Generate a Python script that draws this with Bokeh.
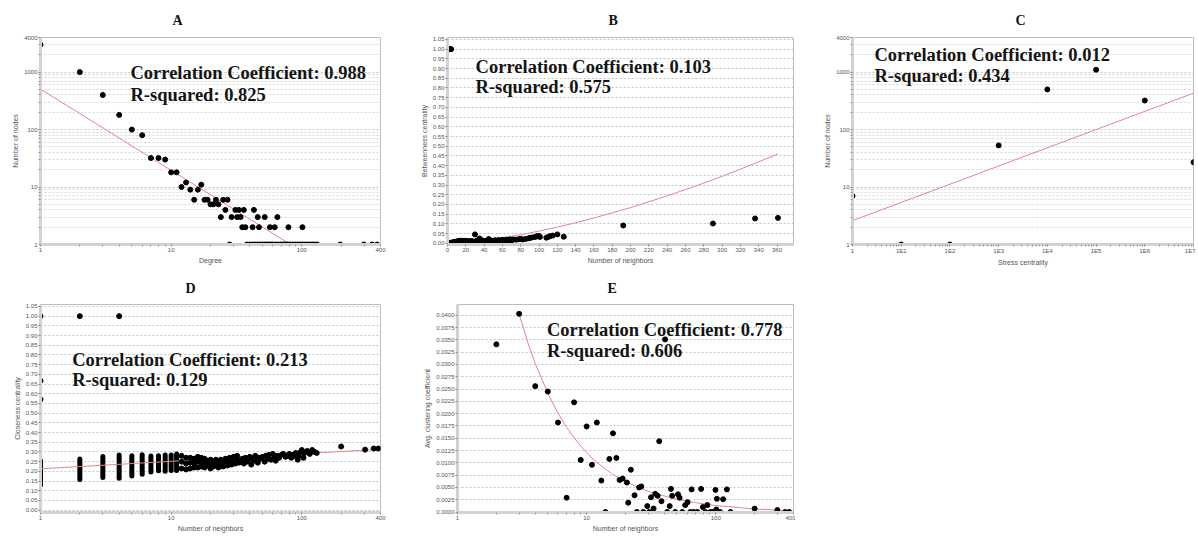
from bokeh.plotting import figure
from bokeh.layouts import row, column
from bokeh.models import (Range1d, FixedTicker, SingleIntervalTicker, Label,
                          PrintfTickFormatter, ColumnDataSource)
from bokeh.embed import file_html
from bokeh.resources import INLINE

# ---------------- data ----------------
# A: degree distribution
A_degree = [1, 2, 3, 4, 5, 6, 7, 8, 9, 10,
            11, 12, 13, 14, 15, 16, 17, 18, 19, 20,
            21, 22, 23, 24, 25, 26, 27, 29, 31, 32,
            33, 34, 35, 36, 37, 42, 43, 46, 47, 52,
            57, 62, 65, 79, 101,
            28, 38, 40, 42, 44, 46, 48, 50, 52, 54,
            56, 58, 60, 63, 66, 69, 72, 75, 78, 81,
            85, 89, 93, 97, 101, 105, 110, 115, 120, 125,
            131, 197, 298, 345, 377]
A_count = [3000, 1000, 400, 180, 100, 80, 32, 32, 30, 18,
           18, 10, 12, 9, 6, 9, 11, 6, 6, 5,
           5, 6, 5, 3, 6, 4, 6, 3, 4, 3,
           4, 3, 2, 4, 2, 2, 4, 3, 2, 3,
           2, 2, 3, 2, 2,
           1, 1, 1, 1, 1, 1, 1, 1, 1, 1,
           1, 1, 1, 1, 1, 1, 1, 1, 1, 1,
           1, 1, 1, 1, 1, 1, 1, 1, 1, 1,
           1, 1, 1, 1, 1]
A_fit_x = [1, 82]
A_fit_y = [505, 1]

# B: betweenness centrality vs number of neighbors
B_x = [1, 2, 3, 4, 1, 2, 3, 5, 6, 7,
       8, 9, 10, 11, 12, 13, 14, 15, 16, 17,
       18, 19, 20, 22, 24, 25, 26, 28, 30, 31,
       32, 34, 35, 36, 38, 40, 42, 44, 45, 46,
       48, 50, 52, 54, 55, 56, 58, 60, 62, 64,
       66, 68, 70, 72, 75, 78, 80, 82, 85, 88,
       90, 92, 95, 97, 98, 100, 101, 108, 110, 112,
       115, 120, 127, 192, 290, 336, 361,
       5, 10, 15, 20, 25, 30, 35, 40, 45, 50,
       55, 60, 65, 70]
B_y = [1.0, 1.0, 1.0, 1.0, 0.001, 0.002, 0.003, 0.004, 0.005, 0.006,
       0.007, 0.008, 0.009, 0.010, 0.011, 0.012, 0.013, 0.012, 0.013, 0.011,
       0.012, 0.013, 0.010, 0.012, 0.011, 0.008, 0.012, 0.010, 0.046, 0.009,
       0.014, 0.012, 0.025, 0.009, 0.015, 0.012, 0.010, 0.015, 0.022, 0.011,
       0.014, 0.010, 0.016, 0.013, 0.011, 0.017, 0.014, 0.018, 0.015, 0.019,
       0.016, 0.020, 0.018, 0.020, 0.019, 0.021, 0.023, 0.020, 0.022, 0.025,
       0.028, 0.030, 0.032, 0.035, 0.037, 0.038, 0.033, 0.029, 0.033, 0.037,
       0.040, 0.046, 0.034, 0.092, 0.102, 0.128, 0.131,
       0.001, 0.002, 0.003, 0.004, 0.005, 0.004, 0.006, 0.007, 0.008, 0.009,
       0.010, 0.012, 0.013, 0.014]
B_fit_x = [1, 10, 20, 40, 60, 80, 100, 120, 140, 160,
           180, 200, 220, 240, 260, 280, 300, 320, 340, 361]
B_fit_y = [0.00005, 0.0018, 0.0052, 0.0152, 0.0285, 0.0445, 0.063, 0.0835, 0.106, 0.1305,
           0.157, 0.184, 0.214, 0.2445, 0.277, 0.31, 0.345, 0.382, 0.42, 0.46]

# C: stress centrality distribution
C_x = [1, 10, 100, 1000, 10000, 100000, 1000000, 10000000]
C_y = [7, 1, 1, 53, 500, 1100, 320, 27]
C_fit_x = [1, 10000000]
C_fit_y = [2.6, 430]
C_xticks = [1, 10, 100, 1000, 10000, 100000, 1000000, 10000000]
C_xlabels = ["1", "1E1", "1E2", "1E3", "1E4", "1E5", "1E6", "1E7"]

# D: closeness centrality vs number of neighbors
D_bar_x = [1, 2, 3, 4, 5, 6, 7, 8, 9, 10, 11]
D_bar_lo = [0.13, 0.158, 0.168, 0.165, 0.176, 0.185, 0.197, 0.203, 0.2, 0.205, 0.205]
D_bar_hi = [0.255, 0.264, 0.276, 0.284, 0.28, 0.286, 0.279, 0.28, 0.284, 0.284, 0.29]
D_x = [12, 12, 12, 13, 13, 13, 14, 14, 14, 15,
       15, 15, 16, 16, 16, 17, 17, 17, 18, 18,
       18, 19, 19, 20, 20, 20, 21, 21, 22, 22,
       23, 23, 24, 24, 25, 25, 26, 26, 27, 27,
       28, 28, 29, 30, 30, 31, 32, 32, 33, 34,
       35, 36, 37, 38, 39, 40, 41, 42, 43, 44,
       45, 46, 47, 48, 50, 52, 53, 55, 56, 58,
       60, 62, 63, 65, 67, 70, 72, 75, 78, 80,
       83, 85, 88, 90, 93, 95, 98, 100, 103, 105,
       110, 115, 120, 125, 130,
       1, 2, 4, 1, 1,
       200, 305, 355, 385]
D_y = [0.215, 0.25, 0.28, 0.21, 0.24, 0.27, 0.215, 0.245, 0.27, 0.22,
       0.24, 0.265, 0.22, 0.25, 0.275, 0.225, 0.245, 0.27, 0.22, 0.24,
       0.265, 0.23, 0.255, 0.215, 0.235, 0.26, 0.225, 0.25, 0.23, 0.26,
       0.22, 0.245, 0.235, 0.26, 0.225, 0.25, 0.24, 0.265, 0.23, 0.255,
       0.245, 0.27, 0.235, 0.25, 0.275, 0.24, 0.26, 0.28, 0.245, 0.255,
       0.265, 0.24, 0.27, 0.25, 0.26, 0.275, 0.235, 0.265, 0.255, 0.28,
       0.26, 0.245, 0.27, 0.265, 0.275, 0.25, 0.28, 0.265, 0.285, 0.26,
       0.29, 0.27, 0.255, 0.28, 0.27, 0.285, 0.29, 0.275, 0.28, 0.29,
       0.27, 0.285, 0.28, 0.295, 0.26, 0.28, 0.3, 0.31, 0.27, 0.295,
       0.305, 0.29, 0.31, 0.3, 0.295,
       1.0, 1.0, 1.0, 0.667, 0.571,
       0.328, 0.312, 0.318, 0.318]
D_fit_x = [1, 400]
D_fit_y = [0.213, 0.314]

# E: average clustering coefficient vs number of neighbors
E_x = [2, 3, 4, 5, 6, 7, 8, 9, 10, 11,
       12, 13, 14, 15, 16, 17, 18, 19, 20.5, 21,
       22, 23.5, 24.5, 25.5, 26.5, 27.5, 29.5, 30.5, 31.5, 33,
       34, 35.5, 36.5, 38, 40.5, 42, 44, 45, 46, 48.5,
       51, 52.5, 55, 58, 60.5, 63.5, 65, 67.5, 72, 77,
       79.5, 83, 86, 91, 95, 99.5, 102, 101, 108, 114,
       122, 130, 200, 300, 345, 370]
E_y = [0.0341, 0.0403, 0.0256, 0.0245, 0.0182, 0.0029, 0.0223, 0.0106, 0.0174, 0.0096,
       0.0182, 0.0064, 0.0, 0.0108, 0.0160, 0.0110, 0.0065, 0.0068, 0.0060, 0.0019,
       0.0086, 0.0034, 0.0, 0.0050, 0.0052, 0.0, 0.0012, 0.0, 0.0030, 0.0007,
       0.0037, 0.0033, 0.0144, 0.0022, 0.0351, 0.0, 0.0012, 0.0047, 0.0033, 0.0,
       0.0036, 0.0029, 0.0, 0.0014, 0.0020, 0.0, 0.0046, 0.0, 0.0, 0.0047,
       0.0010, 0.0, 0.0014, 0.0, 0.0, 0.0045, 0.0027, 0.0005, 0.0, 0.0026,
       0.0046, 0.0, 0.0007, 0.0004, 0.0, 0.0]
E_fit_x = [3, 3.5, 4, 5, 6, 7, 8.6, 10, 11.6, 15.6,
           21, 30, 38, 50, 70, 100, 126, 200, 300, 370]
E_fit_y = [0.0403, 0.0345, 0.0302, 0.0242, 0.0201, 0.0172, 0.0140, 0.0121, 0.0104, 0.0078,
           0.0059, 0.0042, 0.0034, 0.0026, 0.0019, 0.0013, 0.0011, 0.0006, 0.0004, 0.0003]

LOG400_TICKS = [1, 10, 100, 400]
LOG4000_TICKS = [1, 10, 100, 1000, 4000]

# ---------------- styling helpers ----------------
SANS = "Liberation Sans"
SERIF = "Liberation Serif"
FIT_COLOR = "#e48686"


def minor_log(lo_exp, hi_exp, extra=()):
    out = [m * 10 ** k for k in range(lo_exp, hi_exp) for m in range(2, 10)]
    return out + list(extra)


def make_fig(title, title_offset, title_standoff, width, height, x_type, y_type,
             x_range, y_range, bl, br, bt, bb, xlabel, ylabel):
    p = figure(width=width, height=height, x_axis_type=x_type, y_axis_type=y_type,
               x_range=x_range, y_range=y_range, output_backend="svg",
               toolbar_location=None, min_border_left=bl, min_border_right=br,
               min_border_top=bt, min_border_bottom=bb, title=title)
    p.title.align = "left"
    p.title.offset = title_offset
    p.title.text_font = SERIF
    p.title.text_font_style = "bold"
    p.title.text_font_size = "14px"
    p.title.text_color = "#111111"
    p.title.standoff = title_standoff
    p.background_fill_color = "white"
    p.border_fill_color = "white"
    p.outline_line_color = "#bdbdbd"
    p.outline_line_width = 1
    p.xaxis.axis_label = xlabel
    p.yaxis.axis_label = ylabel
    for ax in p.axis:
        ax.axis_line_color = "#d2d2d2"
        ax.axis_line_width = 3
        ax.major_tick_line_color = "#888888"
        ax.major_tick_out = 2
        ax.major_tick_in = 0
        ax.minor_tick_line_color = "#999999"
        ax.minor_tick_out = 2
        ax.minor_tick_in = 0
        ax.major_label_text_font = SANS
        ax.major_label_text_font_size = "6px"
        ax.major_label_text_color = "#555555"
        ax.major_label_standoff = 1
        ax.axis_label_text_font = SANS
        ax.axis_label_text_font_size = "7px"
        ax.axis_label_text_font_style = "normal"
        ax.axis_label_text_color = "#555555"
        ax.axis_label_standoff = 2
    p.xgrid.grid_line_color = None
    p.ygrid.grid_line_color = "#c4c4c4"
    p.ygrid.grid_line_dash = "2 2"
    p.ygrid.grid_line_width = 1
    return p


def add_text(p, x, y1, y2, line1, line2):
    for yy, txt in ((y1, line1), (y2, line2)):
        p.add_layout(Label(x=x, y=yy, text=txt, text_font=SERIF, text_font_style="bold",
                           text_font_size="18.5px", text_baseline="middle",
                           text_color="#141414"))


def log_labels(ticks):
    return {t: str(t) for t in ticks}


# ---------------- A ----------------
pA = make_fig("A", 132, 19, 406, 268, "log", "log", Range1d(1, 400), Range1d(1, 4000),
              40, 26, 37, 22, "Degree", "Number of nodes")
pA.xaxis.ticker = FixedTicker(ticks=LOG400_TICKS, minor_ticks=minor_log(0, 3))
pA.yaxis.ticker = FixedTicker(ticks=LOG4000_TICKS, minor_ticks=minor_log(0, 3, [2000, 3000]))
pA.ygrid.ticker = pA.yaxis.ticker
pA.xaxis.major_label_overrides = log_labels(LOG400_TICKS)
pA.yaxis.major_label_overrides = log_labels(LOG4000_TICKS)
pA.ygrid.minor_grid_line_color = "#d6d6d6"
pA.ygrid.minor_grid_line_dash = "2 2"
pA.line(A_fit_x, A_fit_y, line_color=FIT_COLOR, line_width=1)
pA.scatter(A_degree, A_count, size=5, color="black")
add_text(pA, 4.88, 961, 401, "Correlation Coefficient: 0.988", "R-squared: 0.825")

# ---------------- B ----------------
pB = make_fig("B", 161, 19, 406, 268, "linear", "linear", Range1d(0, 378), Range1d(-0.006, 1.06),
              41, 19, 37, 22, "Number of neighbors", "Betweenness centrality")
pB.xaxis.ticker = SingleIntervalTicker(interval=20, num_minor_ticks=0)
pB.yaxis.ticker = SingleIntervalTicker(interval=0.05, num_minor_ticks=0)
pB.ygrid.ticker = pB.yaxis.ticker
pB.yaxis.formatter = PrintfTickFormatter(format="%.2f")
pB.line(B_fit_x, B_fit_y, line_color=FIT_COLOR, line_width=1)
pB.scatter(B_x, B_y, size=5, color="black")
add_text(pB, 30.7, 0.906, 0.807, "Correlation Coefficient: 0.103", "R-squared: 0.575")

# ---------------- C ----------------
pC = make_fig("C", 163, 19, 383, 268, "log", "log", Range1d(1, 10000000), Range1d(1, 4000),
              40, 2, 37, 22, "Stress centrality", "Number of nodes")
pC.xaxis.ticker = FixedTicker(ticks=C_xticks, minor_ticks=minor_log(0, 7))
pC.yaxis.ticker = FixedTicker(ticks=LOG4000_TICKS, minor_ticks=minor_log(0, 3, [2000, 3000]))
pC.ygrid.ticker = pC.yaxis.ticker
pC.xaxis.major_label_overrides = {t: s for t, s in zip(C_xticks, C_xlabels)}
pC.yaxis.major_label_overrides = log_labels(LOG4000_TICKS)
pC.ygrid.minor_grid_line_color = "#d6d6d6"
pC.ygrid.minor_grid_line_dash = "2 2"
pC.line(C_fit_x, C_fit_y, line_color=FIT_COLOR, line_width=1)
pC.scatter(C_x, C_y, size=5, color="black")
add_text(pC, 2.83, 1963, 853, "Correlation Coefficient: 0.012", "R-squared: 0.434")

# ---------------- D ----------------
pD = make_fig("D", 145, 18, 406, 267, "log", "linear", Range1d(1, 400), Range1d(-0.012, 1.06),
              40, 26, 36, 23, "Number of neighbors", "Closeness centrality")
pD.xaxis.ticker = FixedTicker(ticks=LOG400_TICKS, minor_ticks=minor_log(0, 3))
pD.xaxis.major_label_overrides = log_labels(LOG400_TICKS)
pD.yaxis.ticker = SingleIntervalTicker(interval=0.05, num_minor_ticks=0)
pD.ygrid.ticker = pD.yaxis.ticker
pD.yaxis.formatter = PrintfTickFormatter(format="%.2f")
bars = ColumnDataSource(dict(x=D_bar_x, lo=D_bar_lo, hi=D_bar_hi))
pD.segment(x0="x", y0="lo", x1="x", y1="hi", source=bars, line_width=5,
           line_cap="round", line_color="black")
pD.line(D_fit_x, D_fit_y, line_color=FIT_COLOR, line_width=1)
pD.scatter(D_x, D_y, size=5, color="black")
add_text(pD, 1.75, 0.775, 0.669, "Correlation Coefficient: 0.213", "R-squared: 0.129")

# ---------------- E ----------------
pE = make_fig("E", 150, 18, 389, 267, "log", "linear", Range1d(1, 400), Range1d(-0.0001, 0.0422),
              51, 2, 36, 23, "Number of neighbors", "Avg. clustering coefficient")
pE.xaxis.ticker = FixedTicker(ticks=LOG400_TICKS, minor_ticks=minor_log(0, 3))
pE.xaxis.major_label_overrides = log_labels(LOG400_TICKS)
pE.yaxis.ticker = SingleIntervalTicker(interval=0.0025, num_minor_ticks=0)
pE.ygrid.ticker = pE.yaxis.ticker
pE.yaxis.formatter = PrintfTickFormatter(format="%.4f")
pE.line(E_fit_x, E_fit_y, line_color=FIT_COLOR, line_width=1)
pE.scatter(E_x, E_y, size=5, color="black")
add_text(pE, 4.93, 0.0370, 0.0328, "Correlation Coefficient: 0.778", "R-squared: 0.606")

layout = column(row(pA, pB, pC), row(pD, pE))
open("out.html", "w").write(file_html(layout, INLINE))
